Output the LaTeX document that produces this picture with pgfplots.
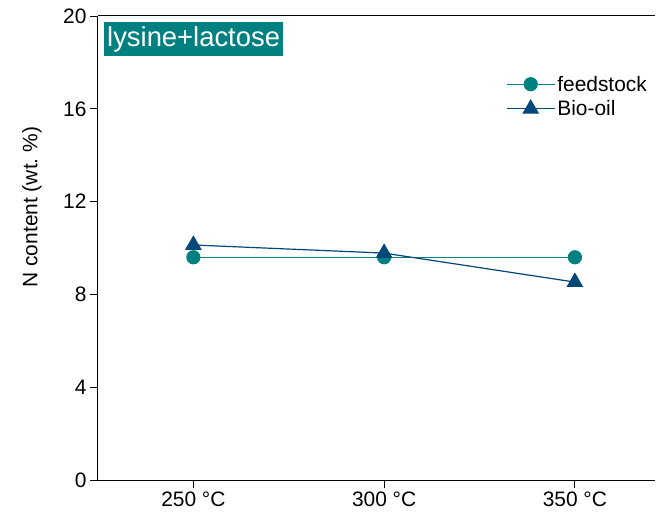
\documentclass[border=0pt]{standalone}
\usepackage{fontspec}
\setmainfont{Liberation Sans}
\usepackage{pgfplots}
\pgfplotsset{compat=1.18}

\definecolor{feedcol}{RGB}{0,128,128}
\definecolor{oilcol}{RGB}{0,72,120}

\begin{document}
\begin{tikzpicture}
  \begin{axis}[
      name=ax,
      scale only axis,
      width=557bp, height=464bp,
      xmin=-0.5, xmax=2.42,
      ymin=0, ymax=20,
      separate axis lines,
      axis x line*=box,
      axis y line*=left,
      axis line style={line width=1bp},
      xtick={0,1,2},
      xticklabels={250 °C, 300 °C, 350 °C},
      ytick={0,4,...,20},
      xtick pos=left, ytick pos=left,
      tick align=outside,
      major tick length=8bp,
      tick style={line width=0.9bp, black},
      /pgf/number format/assume math mode=true,
      tick label style={font=\fontsize{21}{24}\selectfont},
      ylabel={N content (wt.\ \%)},
      ylabel style={font=\fontsize{21}{24}\selectfont, at={(axis description cs:-0.1185,0.588)}, anchor=center},
      legend style={draw=none, fill=none, at={(0.727,0.88)}, anchor=north west,
        font=\fontsize{21}{24}\selectfont, row sep=4bp},
      legend cell align=left,
      legend image code/.code={\draw[mark repeat=2,mark phase=2] plot coordinates {(0bp,0bp) (24bp,0bp) (48bp,0bp)};},
    ]
    \addplot[color=feedcol, line width=1.2bp, mark=*, mark size=6.5bp, mark options={solid, fill=feedcol}]
      coordinates {(0,9.6) (1,9.6) (2,9.6)};
    \addplot[color=oilcol, line width=1.2bp, mark=triangle*, mark size=8.5bp, mark options={solid, fill=oilcol}]
      coordinates {(0,10.13) (1,9.78) (2,8.53)};
    \legend{feedstock, Bio-oil}
    \node[fill=feedcol, text=white, anchor=north west, inner xsep=3bp, inner ysep=4bp,
      font=\fontsize{27.5}{30}\selectfont] at (rel axis cs:0,1) [xshift=6bp, yshift=-6bp] {lysine+lactose};
  \end{axis}
  \pgfresetboundingbox
  \path ([xshift=-98bp,yshift=-35bp]ax.south west) rectangle ([xshift=1bp,yshift=16bp]ax.north east);
\end{tikzpicture}
\end{document}
